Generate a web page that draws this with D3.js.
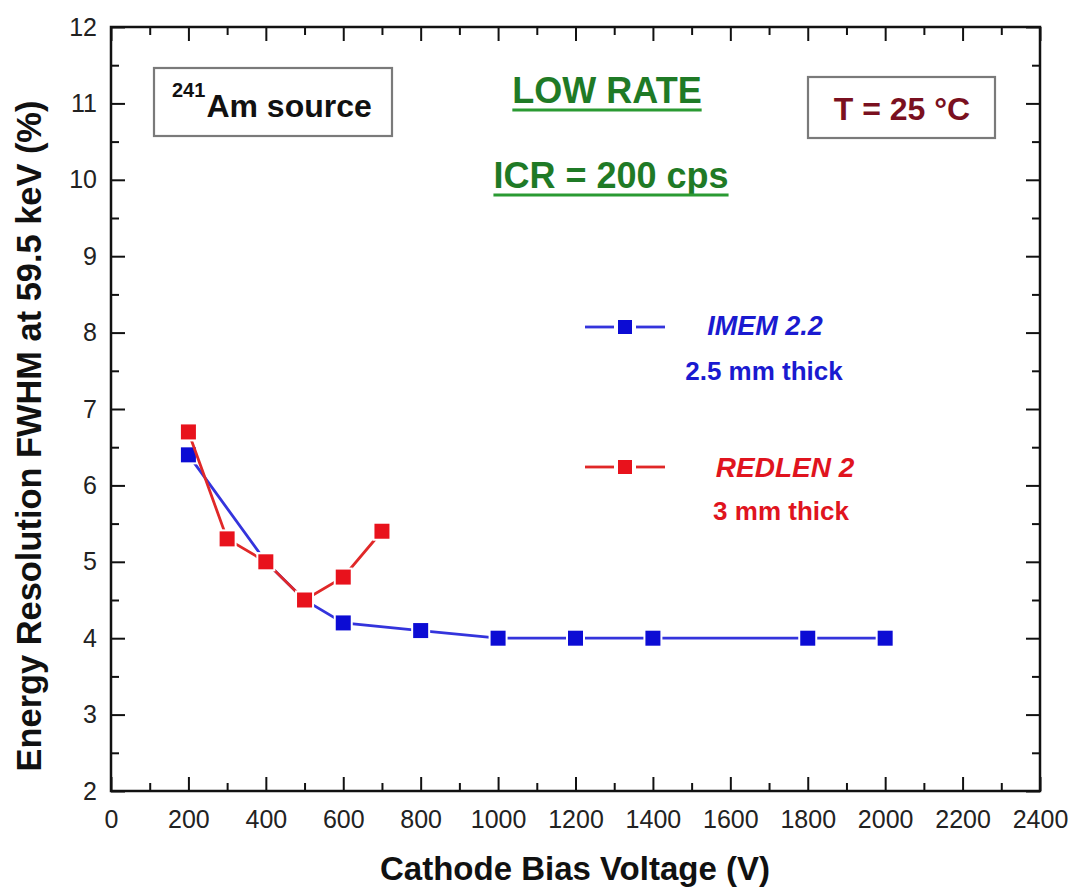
<!DOCTYPE html>
<html>
<head>
<meta charset="utf-8">
<script src="https://cdn.jsdelivr.net/npm/d3@7"></script>
<style>
  html, body { margin: 0; padding: 0; background: #fff; }
  svg { display: block; font-family: "Liberation Sans", Arial, Helvetica, sans-serif; }
</style>
</head>
<body>
<svg id="chart" width="1075" height="892"></svg>
<script>
// Cathode bias voltage (V) and energy resolution FWHM at 59.5 keV (%)
const imemVoltage = [200, 400, 500, 600, 800, 1000, 1200, 1400, 1800, 2000];
const imemFwhm    = [6.4, 5.0, 4.5, 4.2, 4.1, 4.0, 4.0, 4.0, 4.0, 4.0];
const redlenVoltage = [200, 300, 400, 500, 600, 700];
const redlenFwhm    = [6.7, 5.3, 5.0, 4.5, 4.8, 5.4];

const xMajorTicks = [0, 200, 400, 600, 800, 1000, 1200, 1400, 1600, 1800, 2000, 2200, 2400];
const yMajorTicks = [2, 3, 4, 5, 6, 7, 8, 9, 10, 11, 12];

const svg = d3.select("#chart");
const plotLeft = 111, plotRight = 1040, plotTop = 27, plotBottom = 791;

const x = d3.scaleLinear().domain([0, 2400]).range([plotLeft, plotRight]);
const y = d3.scaleLinear().domain([2, 12]).range([plotBottom, plotTop]);

const xMinor = d3.range(100, 2400, 200);
const yMinor = d3.range(2.5, 12, 1);

const majorLen = 14, minorLen = 8;
const tickColor = "#111";

function styleAxis(g) {
  g.select(".domain").remove();
  g.selectAll(".tick line").attr("stroke", tickColor).attr("stroke-width", 2);
}

// bottom axis with labels
svg.append("g").attr("transform", `translate(0,${plotBottom})`)
  .call(d3.axisBottom(x).tickValues(xMajorTicks).tickSize(-majorLen).tickPadding(19).tickFormat(d3.format("d")))
  .call(styleAxis)
  .call(g => g.selectAll(".tick text").attr("font-size", 25).attr("fill", "#222")
    .attr("font-family", "Liberation Sans, Arial, sans-serif"));
svg.append("g").attr("transform", `translate(0,${plotBottom})`)
  .call(d3.axisBottom(x).tickValues(xMinor).tickSize(-minorLen).tickFormat(""))
  .call(styleAxis);

// top axis
svg.append("g").attr("transform", `translate(0,${plotTop})`)
  .call(d3.axisTop(x).tickValues(xMajorTicks).tickSize(-majorLen).tickFormat(""))
  .call(styleAxis);
svg.append("g").attr("transform", `translate(0,${plotTop})`)
  .call(d3.axisTop(x).tickValues(xMinor).tickSize(-minorLen).tickFormat(""))
  .call(styleAxis);

// left axis with labels
svg.append("g").attr("transform", `translate(${plotLeft},0)`)
  .call(d3.axisLeft(y).tickValues(yMajorTicks).tickSize(-majorLen).tickPadding(14).tickFormat(d3.format("d")))
  .call(styleAxis)
  .call(g => g.selectAll(".tick text").attr("font-size", 25).attr("fill", "#222")
    .attr("font-family", "Liberation Sans, Arial, sans-serif"));
svg.append("g").attr("transform", `translate(${plotLeft},0)`)
  .call(d3.axisLeft(y).tickValues(yMinor).tickSize(-minorLen).tickFormat(""))
  .call(styleAxis);

// right axis
svg.append("g").attr("transform", `translate(${plotRight},0)`)
  .call(d3.axisRight(y).tickValues(yMajorTicks).tickSize(-majorLen).tickFormat(""))
  .call(styleAxis);
svg.append("g").attr("transform", `translate(${plotRight},0)`)
  .call(d3.axisRight(y).tickValues(yMinor).tickSize(-minorLen).tickFormat(""))
  .call(styleAxis);

// frame
svg.append("rect")
  .attr("x", plotLeft).attr("y", plotTop)
  .attr("width", plotRight - plotLeft).attr("height", plotBottom - plotTop)
  .attr("fill", "none").attr("stroke", "#111").attr("stroke-width", 2.5);

// axis titles
svg.append("text")
  .attr("x", 575).attr("y", 880)
  .attr("text-anchor", "middle")
  .attr("font-size", 33).attr("font-weight", "bold").attr("fill", "#111")
  .text("Cathode Bias Voltage (V)");

svg.append("text")
  .attr("transform", "translate(41,436) rotate(-90)")
  .attr("text-anchor", "middle")
  .attr("font-size", 34.4).attr("font-weight", "bold").attr("fill", "#111")
  .text("Energy Resolution FWHM at 59.5 keV (%)");

// series
const series = [
  { name: "IMEM", vx: imemVoltage, vy: imemFwhm, line: "#3434dc", marker: "#0c0cd4" },
  { name: "REDLEN", vx: redlenVoltage, vy: redlenFwhm, line: "#e02828", marker: "#e8121c" }
];

const lineGen = d3.line().x(d => x(d[0])).y(d => y(d[1]));
const mSize = 15;

series.forEach(s => {
  const pts = s.vx.map((v, i) => [v, s.vy[i]]);
  svg.append("path").datum(pts)
    .attr("d", lineGen)
    .attr("fill", "none").attr("stroke", s.line).attr("stroke-width", 2.8);
  // markers with a thin white halo so the line stops just short of each square
  svg.append("g").selectAll("rect").data(pts).join("rect")
    .attr("x", d => x(d[0]) - mSize / 2).attr("y", d => y(d[1]) - mSize / 2)
    .attr("width", mSize).attr("height", mSize)
    .attr("fill", s.marker)
    .attr("stroke", "#fff").attr("stroke-width", 4)
    .attr("paint-order", "stroke");
});

// legend
function legendEntry(cy, s) {
  svg.append("line").attr("x1", 585).attr("x2", 614).attr("y1", cy).attr("y2", cy)
    .attr("stroke", s.line).attr("stroke-width", 2.8);
  svg.append("line").attr("x1", 636).attr("x2", 665).attr("y1", cy).attr("y2", cy)
    .attr("stroke", s.line).attr("stroke-width", 2.8);
  svg.append("rect").attr("x", 625 - 7).attr("y", cy - 7).attr("width", 14).attr("height", 14)
    .attr("fill", s.marker);
}
legendEntry(327, series[0]);
legendEntry(467, series[1]);

svg.append("text").attr("x", 765).attr("y", 335).attr("text-anchor", "middle")
  .attr("font-size", 27).attr("font-weight", "bold").attr("font-style", "italic")
  .attr("fill", "#1a1ad0").text("IMEM 2.2");
svg.append("text").attr("x", 764).attr("y", 380).attr("text-anchor", "middle")
  .attr("font-size", 26).attr("font-weight", "bold")
  .attr("fill", "#1a1ad0").text("2.5 mm thick");
svg.append("text").attr("x", 785).attr("y", 477).attr("text-anchor", "middle")
  .attr("font-size", 28).attr("font-weight", "bold").attr("font-style", "italic")
  .attr("fill", "#e0141e").text("REDLEN 2");
svg.append("text").attr("x", 781).attr("y", 520).attr("text-anchor", "middle")
  .attr("font-size", 26).attr("font-weight", "bold")
  .attr("fill", "#e0141e").text("3 mm thick");

// source annotation box
svg.append("rect").attr("x", 154).attr("y", 68).attr("width", 238).attr("height", 68)
  .attr("fill", "#fff").attr("stroke", "#7a7a7a").attr("stroke-width", 2.2);
const src = svg.append("text").attr("x", 172).attr("y", 117)
  .attr("font-weight", "bold").attr("fill", "#111");
src.append("tspan").attr("font-size", 20).attr("dy", -20).text("241");
src.append("tspan").attr("font-size", 32).attr("dy", 20).attr("dx", 1).text("Am source");

// temperature box
svg.append("rect").attr("x", 808).attr("y", 77).attr("width", 187).attr("height", 61)
  .attr("fill", "#fff").attr("stroke", "#7a7a7a").attr("stroke-width", 2.2);
svg.append("text").attr("x", 902).attr("y", 120).attr("text-anchor", "middle")
  .attr("font-size", 32).attr("font-weight", "bold").attr("fill", "#7a1020")
  .text("T = 25 °C");

// rate annotations (underlined)
function underlined(text, cx, by, uy, size) {
  const t = svg.append("text").attr("x", cx).attr("y", by).attr("text-anchor", "middle")
    .attr("font-size", size).attr("font-weight", "bold").attr("fill", "#1f7a26").text(text);
  const w = t.node().getComputedTextLength();
  svg.append("line").attr("x1", cx - w / 2).attr("x2", cx + w / 2)
    .attr("y1", uy).attr("y2", uy).attr("stroke", "#2a9a32").attr("stroke-width", 3);
}
underlined("LOW RATE", 607, 103, 110, 36);
underlined("ICR = 200 cps", 611, 188, 195, 36);
</script>
</body>
</html>
